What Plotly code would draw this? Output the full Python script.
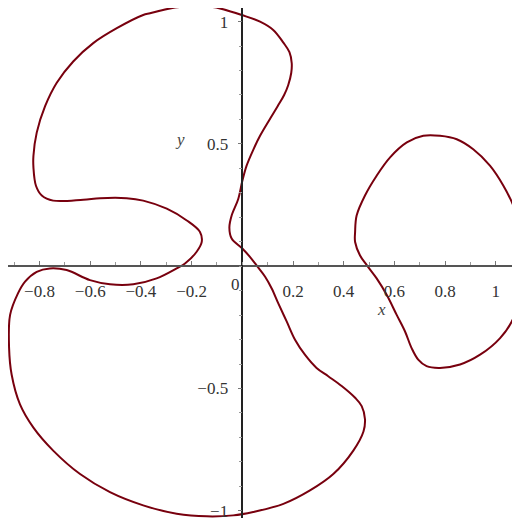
import plotly.graph_objects as go

# big closed curve (upper lobe, lower lobe and centre strand)
big_x = [-0.002, -0.088, -0.127, -0.233, -0.285, -0.364, -0.391, -0.495, -0.588, -0.667,
         -0.732, -0.778, -0.811, -0.824, -0.824, -0.814, -0.791, -0.746, -0.627, -0.561,
         -0.456, -0.391, -0.298, -0.219, -0.167, -0.160, -0.180, -0.226, -0.259, -0.338,
         -0.430, -0.522, -0.601, -0.693, -0.759, -0.811, -0.857, -0.885, -0.916, -0.920,
         -0.910, -0.877, -0.824, -0.746, -0.640, -0.522, -0.391, -0.259, -0.140, -0.036,
         0.043, 0.162, 0.267, 0.359, 0.438, 0.478, 0.484, 0.471, 0.445, 0.392,
         0.339, 0.293, 0.247, 0.208, 0.175, 0.142, 0.116, 0.090, 0.057, 0.030,
         0.000, -0.042, -0.051, -0.042, -0.016, 0.000, 0.017, 0.045, 0.070, 0.105,
         0.140, 0.165, 0.181, 0.193, 0.195, 0.186, 0.162, 0.122, 0.070, -0.002]
big_y = [1.027, 1.054, 1.061, 1.061, 1.054, 1.034, 1.027, 0.973, 0.912, 0.837,
         0.750, 0.654, 0.546, 0.451, 0.404, 0.329, 0.289, 0.268, 0.272, 0.278,
         0.278, 0.268, 0.235, 0.187, 0.140, 0.099, 0.059, 0.011, -0.009, -0.050,
         -0.074, -0.074, -0.057, -0.016, -0.009, -0.023, -0.063, -0.111, -0.199, -0.335,
         -0.443, -0.565, -0.660, -0.754, -0.850, -0.924, -0.978, -1.012, -1.023, -1.019,
         -1.005, -0.972, -0.917, -0.850, -0.754, -0.676, -0.626, -0.572, -0.538, -0.490,
         -0.450, -0.416, -0.362, -0.301, -0.226, -0.152, -0.091, -0.043, 0.002, 0.038,
         0.072, 0.113, 0.158, 0.207, 0.275, 0.348, 0.411, 0.480, 0.533, 0.595,
         0.655, 0.700, 0.740, 0.790, 0.830, 0.875, 0.914, 0.966, 1.000, 1.027]

# right-hand loop
loop_x = [0.445, 0.451, 0.484, 0.530, 0.583, 0.649, 0.714, 0.780, 0.846, 0.911,
          0.977, 1.030, 1.069, 1.095, 1.107, 1.107, 1.095, 1.069, 1.017, 0.938,
          0.859, 0.780, 0.727, 0.694, 0.668, 0.642, 0.609, 0.570, 0.530, 0.491,
          0.464, 0.445, 0.445]
loop_y = [0.140, 0.207, 0.289, 0.370, 0.445, 0.506, 0.533, 0.533, 0.519, 0.478,
          0.411, 0.329, 0.248, 0.167, 0.072, -0.017, -0.104, -0.213, -0.294, -0.362,
          -0.402, -0.416, -0.409, -0.382, -0.335, -0.267, -0.199, -0.118, -0.050, 0.004,
          0.045, 0.099, 0.140]

x_ticks = [-0.8, -0.6, -0.4, -0.2, 0.2, 0.4, 0.6, 0.8, 1]
x_labels = ["\u22120.8", "\u22120.6", "\u22120.4", "\u22120.2", "0.2", "0.4", "0.6", "0.8", "1"]
y_ticks = [-1, -0.5, 0.5, 1]
y_labels = ["\u22121", "\u22120.5", "0.5", "1"]

# the page body adds an 8px margin, so the figure is 8px smaller and the ranges start there
X_RANGE = [-0.9243, 1.0955]
Y_RANGE = [-1.0297, 1.0557]

curve_color = "#78000E"
serif = "Liberation Serif, Times New Roman, Times, serif"

fig = go.Figure()
for xs, ys in [(big_x, big_y), (loop_x, loop_y)]:
    fig.add_trace(go.Scatter(x=xs, y=ys, mode="lines",
                             line=dict(color=curve_color, width=2, shape="spline", smoothing=1),
                             hoverinfo="skip"))

# axes cross at the origin like Maple's "normal" axes
pos_x = (0 - Y_RANGE[0]) / (Y_RANGE[1] - Y_RANGE[0])
pos_y = (0 - X_RANGE[0]) / (X_RANGE[1] - X_RANGE[0])

fig.update_layout(
    width=512, height=513,
    margin=dict(l=0, r=0, t=0, b=0),
    plot_bgcolor="white", paper_bgcolor="white",
    showlegend=False,
    xaxis=dict(
        range=X_RANGE, anchor="free", position=pos_x,
        showgrid=False, zeroline=False,
        showline=True, linecolor="#555555", linewidth=2,
        ticks="inside", ticklen=4, tickcolor="#777777",
        tickvals=x_ticks, ticktext=x_labels,
        minor=dict(dtick=0.1, tick0=0, ticks="inside", ticklen=3, tickcolor="#999999"),
        tickfont=dict(family=serif, size=17, color="#333333"),
        ticklabelstandoff=9, ticklabeloverflow="allow",
    ),
    yaxis=dict(
        range=Y_RANGE, anchor="free", position=pos_y,
        showgrid=False, zeroline=False,
        showline=True, linecolor="#222222", linewidth=1.5,
        ticks="outside", ticklen=4, tickcolor="#777777",
        tickvals=y_ticks, ticktext=y_labels,
        minor=dict(dtick=0.1, tick0=0, ticks="outside", ticklen=3, tickcolor="#999999"),
        tickfont=dict(family=serif, size=17, color="#333333"),
        ticklabelstandoff=6, ticklabeloverflow="allow",
    ),
    annotations=[
        dict(x=-0.026, y=-0.074, text="0", showarrow=False,
             font=dict(family=serif, size=17, color="#333333")),
        dict(x=-0.246, y=0.519, text="<i>y</i>", showarrow=False,
             font=dict(family=serif, size=17, color="#444444")),
        dict(x=0.550, y=-0.179, text="<i>x</i>", showarrow=False,
             font=dict(family=serif, size=17, color="#444444")),
    ],
)

fig.write_html("out.html")
